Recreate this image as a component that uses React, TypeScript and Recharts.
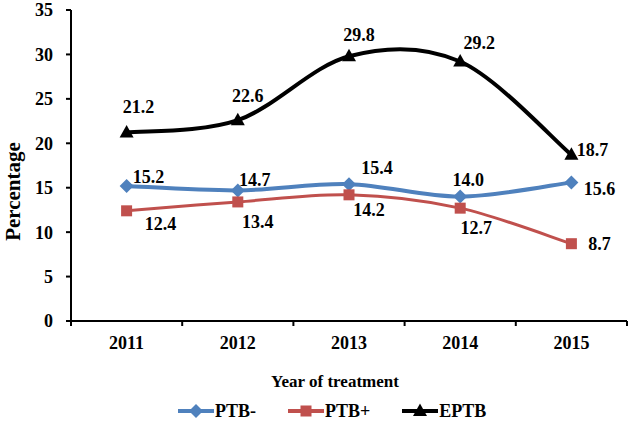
import React from "react"
import {
  LineChart,
  Line,
  XAxis,
  YAxis,
  Legend,
  LabelList
} from "recharts"

const years = ["2011", "2012", "2013", "2014", "2015"]
const ptbNeg = [15.2, 14.7, 15.4, 14.0, 15.6]
const ptbPos = [12.4, 13.4, 14.2, 12.7, 8.7]
const eptb = [21.2, 22.6, 29.8, 29.2, 18.7]
const yTicks = [0, 5, 10, 15, 20, 25, 30, 35]

const data = years.map((year, i) => ({
  year,
  ptbNeg: ptbNeg[i],
  ptbPos: ptbPos[i],
  eptb: eptb[i]
}))

// label offsets from each point (text centre), as placed in the original
const negOffsets = [[22, -9], [17, -11], [28, -16], [8, -17], [28, 6]]
const posOffsets = [[34, 13], [20, 20], [20, 15], [16, 20], [28, 0]]
const eptbOffsets = [[12, -26], [10, -24], [10, -22], [19, -19], [21, -5]]

const BLUE = "#4F81BD"
const RED = "#C0504D"
const BLACK = "#000"
const FONT = "Liberation Serif"

const W = 631
const H = 422
const LEFT = 71
const RIGHT = 4
const BAND = (W - LEFT - RIGHT) / years.length

const txt = { fontFamily: FONT, fontWeight: "bold" as const }

// Excel-like smoothed line (Catmull-Rom as bezier)
function excelCurve(context: any) {
  let pts: number[][] = []
  return {
    areaStart() {},
    areaEnd() {},
    lineStart() {
      pts = []
    },
    lineEnd() {
      if (!pts.length) return
      context.moveTo(pts[0][0], pts[0][1])
      for (let i = 0; i < pts.length - 1; i++) {
        const p0 = pts[i - 1] || pts[i]
        const p1 = pts[i]
        const p2 = pts[i + 1]
        const p3 = pts[i + 2] || pts[i + 1]
        context.bezierCurveTo(
          p1[0] + (p2[0] - p0[0]) / 6,
          p1[1] + (p2[1] - p0[1]) / 6,
          p2[0] - (p3[0] - p1[0]) / 6,
          p2[1] - (p3[1] - p1[1]) / 6,
          p2[0],
          p2[1]
        )
      }
    },
    point(x: number, y: number) {
      pts.push([+x, +y])
    }
  }
}

function marker(kind: string, cx: number, cy: number, color: string, key?: any) {
  if (kind === "diamond") {
    return (
      <polygon key={key} points={`${cx},${cy - 7} ${cx + 7},${cy} ${cx},${cy + 7} ${cx - 7},${cy}`} fill={color} />
    )
  }
  if (kind === "square") {
    return <rect key={key} x={cx - 5.5} y={cy - 5.5} width={11} height={11} fill={color} />
  }
  return (
    <polygon key={key} points={`${cx},${cy - 7.5} ${cx + 7},${cy + 5} ${cx - 7},${cy + 5}`} fill={color} />
  )
}

const makeDot = (kind: string, color: string) => (props: any) =>
  marker(kind, props.cx, props.cy, color, props.index)

const makeLabel = (offsets: number[][]) => (props: any) => {
  const { x, y, value, index } = props
  const [dx, dy] = offsets[index] || [0, 0]
  return (
    <text
      key={index}
      x={x + dx}
      y={y + dy}
      dy="0.35em"
      textAnchor="middle"
      style={txt}
      fontSize={18}
      fill="#000"
    >
      {Number(value).toFixed(1)}
    </text>
  )
}

const XTick = (props: any) => {
  const { x, y, payload, index } = props
  const axisY = y - 8
  return (
    <g>
      <line x1={x - BAND / 2} x2={x - BAND / 2} y1={axisY} y2={axisY + 5} stroke="#000" strokeWidth={2} />
      {index === years.length - 1 && (
        <line x1={x + BAND / 2} x2={x + BAND / 2} y1={axisY} y2={axisY + 5} stroke="#000" strokeWidth={2} />
      )}
      <text x={x} y={axisY + 28} textAnchor="middle" style={txt} fontSize={18} fill="#000">
        {payload.value}
      </text>
    </g>
  )
}

const YLabel = (props: any) => {
  const { viewBox } = props
  if (!viewBox) return null
  const cx = 13
  const cy = viewBox.y + viewBox.height / 2 + 26
  return (
    <text
      x={cx}
      y={cy}
      transform={`rotate(-90, ${cx}, ${cy})`}
      textAnchor="middle"
      dy="0.35em"
      style={txt}
      fontSize={21}
      fill="#000"
    >
      Percentage
    </text>
  )
}

const XLabel = (props: any) => {
  const { viewBox } = props
  if (!viewBox) return null
  return (
    <text x={335} y={viewBox.y + viewBox.height - 10} textAnchor="middle" style={txt} fontSize={17} fill="#000">
      Year of treatment
    </text>
  )
}

const legendItems = [
  { name: "PTB-", color: BLUE, kind: "diamond" },
  { name: "PTB+", color: RED, kind: "square" },
  { name: "EPTB", color: BLACK, kind: "triangle" }
]

const LegendContent = () => (
  <div style={{ display: "flex", paddingLeft: 178, height: 22, alignItems: "center", marginTop: 3 }}>
    {legendItems.map((it) => (
      <div key={it.name} style={{ display: "flex", alignItems: "center", marginRight: 32 }}>
        <svg width={36} height={16}>
          <line x1={0} x2={36} y1={8} y2={8} stroke={it.color} strokeWidth={4} />
          {marker(it.kind, 18, 8, it.color)}
        </svg>
        <span style={{ ...txt, fontSize: 18, color: "#000", marginLeft: 1 }}>{it.name}</span>
      </div>
    ))}
  </div>
)

export default function App() {
  return (
    <div style={{ position: "absolute", left: 0, top: 0, width: W, height: H, background: "#fff" }}>
      <LineChart width={W} height={H} data={data} margin={{ top: 10, right: RIGHT, bottom: 0, left: 0 }}>
        <XAxis
          dataKey="year"
          scale="band"
          height={76}
          tickLine={false}
          tick={<XTick />}
          axisLine={{ stroke: "#000", strokeWidth: 2 }}
          label={<XLabel />}
        />
        <YAxis
          width={LEFT}
          domain={[0, 35]}
          ticks={yTicks}
          interval={0}
          tickSize={5}
          tickMargin={13}
          tickLine={{ stroke: "#000", strokeWidth: 2 }}
          axisLine={{ stroke: "#000", strokeWidth: 2 }}
          tick={{ fontFamily: FONT, fontWeight: "bold", fontSize: 18, fill: "#000" }}
          label={<YLabel />}
        />
        <Legend verticalAlign="bottom" content={<LegendContent />} />
        <Line
          dataKey="ptbNeg"
          name="PTB-"
          type={excelCurve as any}
          stroke={BLUE}
          strokeWidth={4}
          dot={makeDot("diamond", BLUE)}
          activeDot={false}
          isAnimationActive={false}
        >
          <LabelList dataKey="ptbNeg" content={makeLabel(negOffsets)} />
        </Line>
        <Line
          dataKey="ptbPos"
          name="PTB+"
          type={excelCurve as any}
          stroke={RED}
          strokeWidth={3}
          dot={makeDot("square", RED)}
          activeDot={false}
          isAnimationActive={false}
        >
          <LabelList dataKey="ptbPos" content={makeLabel(posOffsets)} />
        </Line>
        <Line
          dataKey="eptb"
          name="EPTB"
          type={excelCurve as any}
          stroke={BLACK}
          strokeWidth={4}
          dot={makeDot("triangle", BLACK)}
          activeDot={false}
          isAnimationActive={false}
        >
          <LabelList dataKey="eptb" content={makeLabel(eptbOffsets)} />
        </Line>
      </LineChart>
    </div>
  )
}
